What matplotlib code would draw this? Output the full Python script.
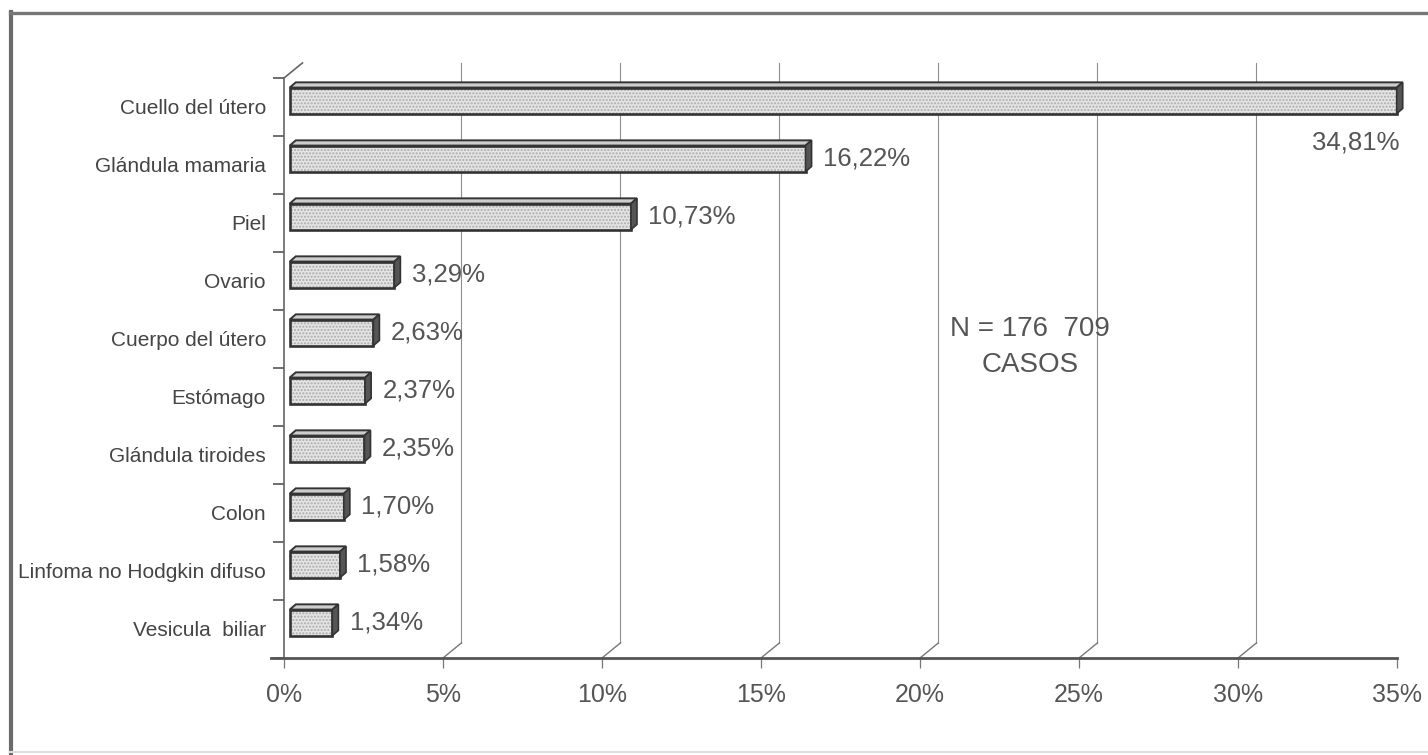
import matplotlib
matplotlib.use("Agg")
import matplotlib.pyplot as plt
from matplotlib.patches import Polygon
from matplotlib.lines import Line2D

plt.rcParams["font.family"] = ["Liberation Sans", "DejaVu Sans"]

categories = ["Cuello del útero", "Glándula mamaria", "Piel", "Ovario",
              "Cuerpo del útero", "Estómago", "Glándula tiroides", "Colon",
              "Linfoma no Hodgkin difuso", "Vesicula  biliar"]
values = [34.81, 16.22, 10.73, 3.29, 2.63, 2.37, 2.35, 1.70, 1.58, 1.34]
x_ticks = [0, 5, 10, 15, 20, 25, 30, 35]
x_tick_labels = ["0%", "5%", "10%", "15%", "20%", "25%", "30%", "35%"]
note = "N = 176  709\nCASOS"

W, H = 1428, 755
fig = plt.figure(figsize=(W / 100, H / 100), dpi=100)
fig.patch.set_facecolor("white")

# plot box: floor line at y=658 px, top category boundary at 78 px
x0_px, x1_px, ytop_px, ybot_px = 284, 1397, 78, 658
ax = fig.add_axes([x0_px / W, 1 - ybot_px / H, (x1_px - x0_px) / W, (ybot_px - ytop_px) / H])
n = len(categories)
ax.set_xlim(0, 35)
ax.set_ylim(n - 0.5, -0.5)
for s in ax.spines.values():
    s.set_visible(False)

# oblique depth of the back wall (data units)
wdx, wdy = 0.58, -0.26
grid_c = "#8f8f8f"
for t in x_ticks[1:-1]:
    ax.plot([t + wdx, t + wdx], [n - 0.5 + wdy, -0.5 + wdy], color=grid_c, lw=0.8, clip_on=False)
    ax.plot([t, t + wdx], [n - 0.5, n - 0.5 + wdy], color="#777", lw=1.0, clip_on=False)
# top corner of the category wall
ax.plot([0, wdx], [-0.5, -0.5 + wdy], color="#666", lw=1.2, clip_on=False)

# category axis and floor line
ax.plot([0, 0], [-0.5, n - 0.5], color="#666", lw=1.2, clip_on=False)
ax.plot([-0.4, 35], [n - 0.5, n - 0.5], color="#555", lw=2.0, clip_on=False)

ax.set_yticks([i - 0.5 for i in range(n + 1)])
ax.set_yticklabels([])
ax.set_yticks(range(n), minor=True)
ax.set_yticklabels(categories, minor=True)
ax.tick_params(axis="y", which="major", length=8, width=1.2, color="#555")
ax.tick_params(axis="y", which="minor", length=0, pad=13, labelsize=15, labelcolor="#444")

ax.set_xticks(x_ticks)
ax.set_xticklabels(x_tick_labels)
ax.tick_params(axis="x", length=7, width=0.9, color="#777", pad=11,
               labelsize=18, labelcolor="#555")

# 3D bars: front face shifted into the depth, thin top and dark side face
bx, by = 0.18, -0.11
bh = 0.45
ddx, ddy = 0.19, -0.09
centers = [i + by for i in range(n)]
fills = ax.barh(centers, values, left=bx, height=bh, color="#e4e4e4",
                hatch=".....", edgecolor="#ababab", linewidth=0, zorder=3)
edges = ax.barh(centers, values, left=bx, height=bh, fill=False,
                edgecolor="#333", linewidth=1.9, zorder=4)
for p in list(fills) + list(edges):
    p.set_clip_on(False)
for cy, v in zip(centers, values):
    xl, xr = bx, bx + v
    yt, yb = cy - bh / 2, cy + bh / 2
    top = Polygon([(xl, yt), (xl + ddx, yt + ddy), (xr + ddx, yt + ddy), (xr, yt)],
                  closed=True, facecolor="#cdcdcd", edgecolor="#333", lw=1.4,
                  zorder=4, clip_on=False)
    side = Polygon([(xr, yt), (xr + ddx, yt + ddy), (xr + ddx, yb + ddy), (xr, yb)],
                   closed=True, facecolor="#555", edgecolor="#333", lw=1.2,
                   zorder=4, clip_on=False)
    ax.add_patch(top)
    ax.add_patch(side)

# value labels
for i, (cy, v) in enumerate(zip(centers, values)):
    txt = f"{v:.2f}".replace(".", ",") + "%"
    if i == 0:
        ax.text(bx + v + 0.1, cy + 0.72, txt, ha="right", va="center",
                fontsize=18.5, color="#555", zorder=5, clip_on=False)
    else:
        ax.text(bx + v + 0.55, cy, txt, ha="left", va="center",
                fontsize=18.5, color="#555", zorder=5, clip_on=False)

ax.text(23.46, 4.14, note, ha="center", va="center", multialignment="center",
        fontsize=20, color="#555", linespacing=1.5, zorder=5)

# outer frame
fig.add_artist(Line2D([11 / W, 11 / W], [0, 1 - 12 / H], color="#6a6a6a", lw=3.0))
fig.add_artist(Line2D([10 / W, 1], [1 - 13 / H, 1 - 13 / H], color="#777", lw=2.4))
fig.add_artist(Line2D([10 / W, 1], [1 - 752 / H, 1 - 752 / H], color="#dedede", lw=1.5))

fig.savefig("out.png", dpi=100, facecolor="white")
